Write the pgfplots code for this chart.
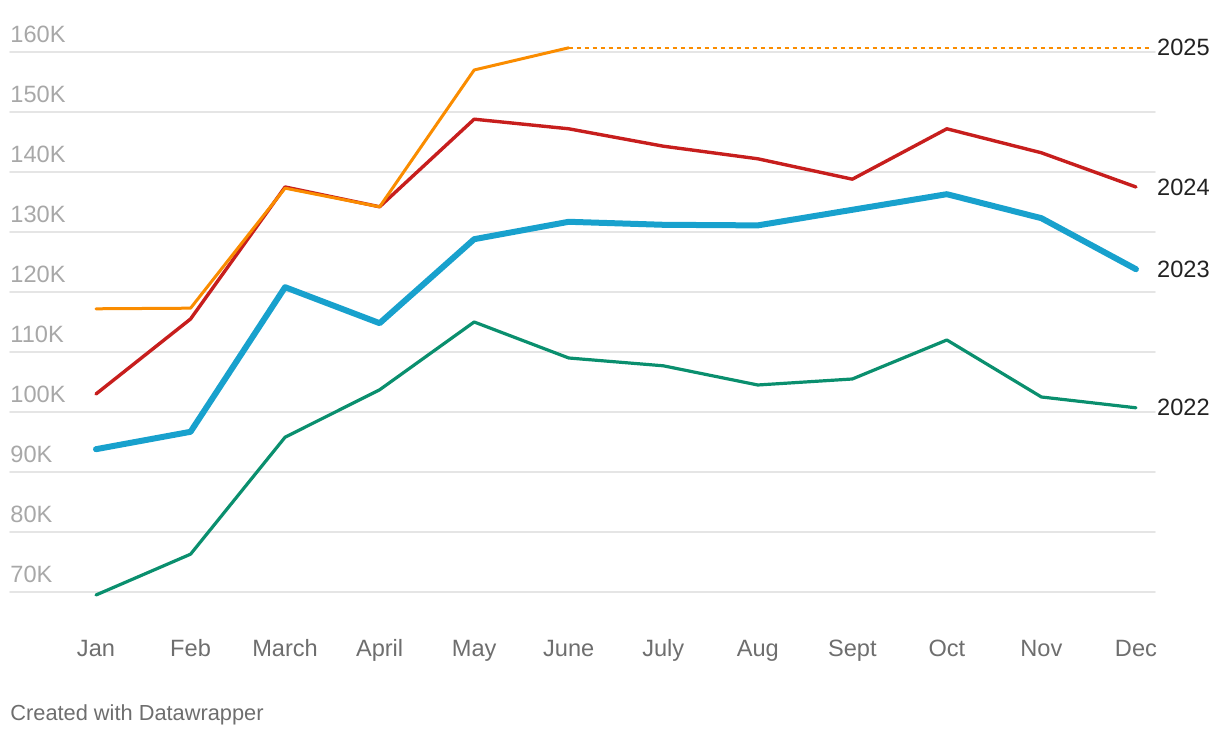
\documentclass[border=0pt]{standalone}
\usepackage{pgfplots}
\pgfplotsset{compat=1.18}
\usepackage{fontspec}
\setmainfont{Liberation Sans}

\definecolor{c2022}{HTML}{0A8F6E}
\definecolor{c2023}{HTML}{18A1CD}
\definecolor{c2024}{HTML}{C71E1D}
\definecolor{c2025}{HTML}{FA8C00}
\definecolor{gridgrey}{HTML}{E5E5E5}
\definecolor{ylab}{HTML}{A8A8A8}
\definecolor{xlab}{HTML}{6E6E6E}
\definecolor{seriestxt}{HTML}{222222}

\begin{document}
\begin{tikzpicture}
\path[use as bounding box] (0,0) rectangle (610pt,369pt);
\begin{axis}[
    at={(5pt,43pt)}, anchor=south west,
    scale only axis,
    width=572.5pt, height=315pt,
    xmin=-0.9097, xmax=11.2015,
    ymin=60, ymax=165,
    axis line style={draw=none},
    tick style={draw=none},
    clip=false,
    ymajorgrids,
    grid style={gridgrey, line width=0.8pt},
    ytick={70,80,90,100,110,120,130,140,150,160},
    yticklabels={70K,80K,90K,100K,110K,120K,130K,140K,150K,160K},
    yticklabel style={anchor=south west, inner sep=0pt, xshift=0pt, yshift=4.5pt,
        font=\fontsize{11.8}{13}\selectfont, text=ylab},
    xtick={0,...,11},
    xticklabels={Jan,Feb,March,April,May,June,July,Aug,Sept,Oct,Nov,Dec},
    xticklabel style={anchor=base, inner sep=0pt, yshift=-2.5pt,
        font=\fontsize{11.8}{13}\selectfont, text=xlab},
    major tick length=0pt,
    line join=round, line cap=round,
]
% 2022
\addplot[c2022, line width=1.6pt] coordinates {
    (0,69.5) (1,76.3) (2,95.8) (3,103.7) (4,115.0) (5,109.0)
    (6,107.7) (7,104.5) (8,105.5) (9,112.0) (10,102.5) (11,100.7)
};
% 2023
\addplot[c2023, line width=3pt] coordinates {
    (0,93.8) (1,96.7) (2,120.8) (3,114.8) (4,128.8) (5,131.7)
    (6,131.2) (7,131.1) (8,133.7) (9,136.3) (10,132.3) (11,123.8)
};
% 2024
\addplot[c2024, line width=1.7pt] coordinates {
    (0,103.0) (1,115.5) (2,137.5) (3,134.2) (4,148.8) (5,147.2)
    (6,144.3) (7,142.2) (8,138.8) (9,147.2) (10,143.2) (11,137.5)
};
% 2025
\addplot[c2025, line width=1.5pt] coordinates {
    (0,117.2) (1,117.3) (2,137.3) (3,134.2) (4,157.0) (5,160.7)
};
\addplot[c2025, line width=1pt, dash pattern=on 2pt off 2pt, line cap=butt] coordinates {
    (5,160.7) (11.15,160.7)
};
\begin{scope}[every node/.style={anchor=west, inner sep=0pt, text=seriestxt,
        font=\fontsize{11.8}{13}\selectfont}]
\node at (axis cs:11.22,160.7) {2025};
\node at (axis cs:11.22,137.5) {2024};
\node at (axis cs:11.22,123.8) {2023};
\node at (axis cs:11.22,100.7) {2022};
\end{scope}
\end{axis}
\node[anchor=base west, inner sep=0pt, text=xlab, font=\fontsize{10.9}{12}\selectfont]
    at (5pt,8.5pt) {Created with Datawrapper};
\end{tikzpicture}
\end{document}
